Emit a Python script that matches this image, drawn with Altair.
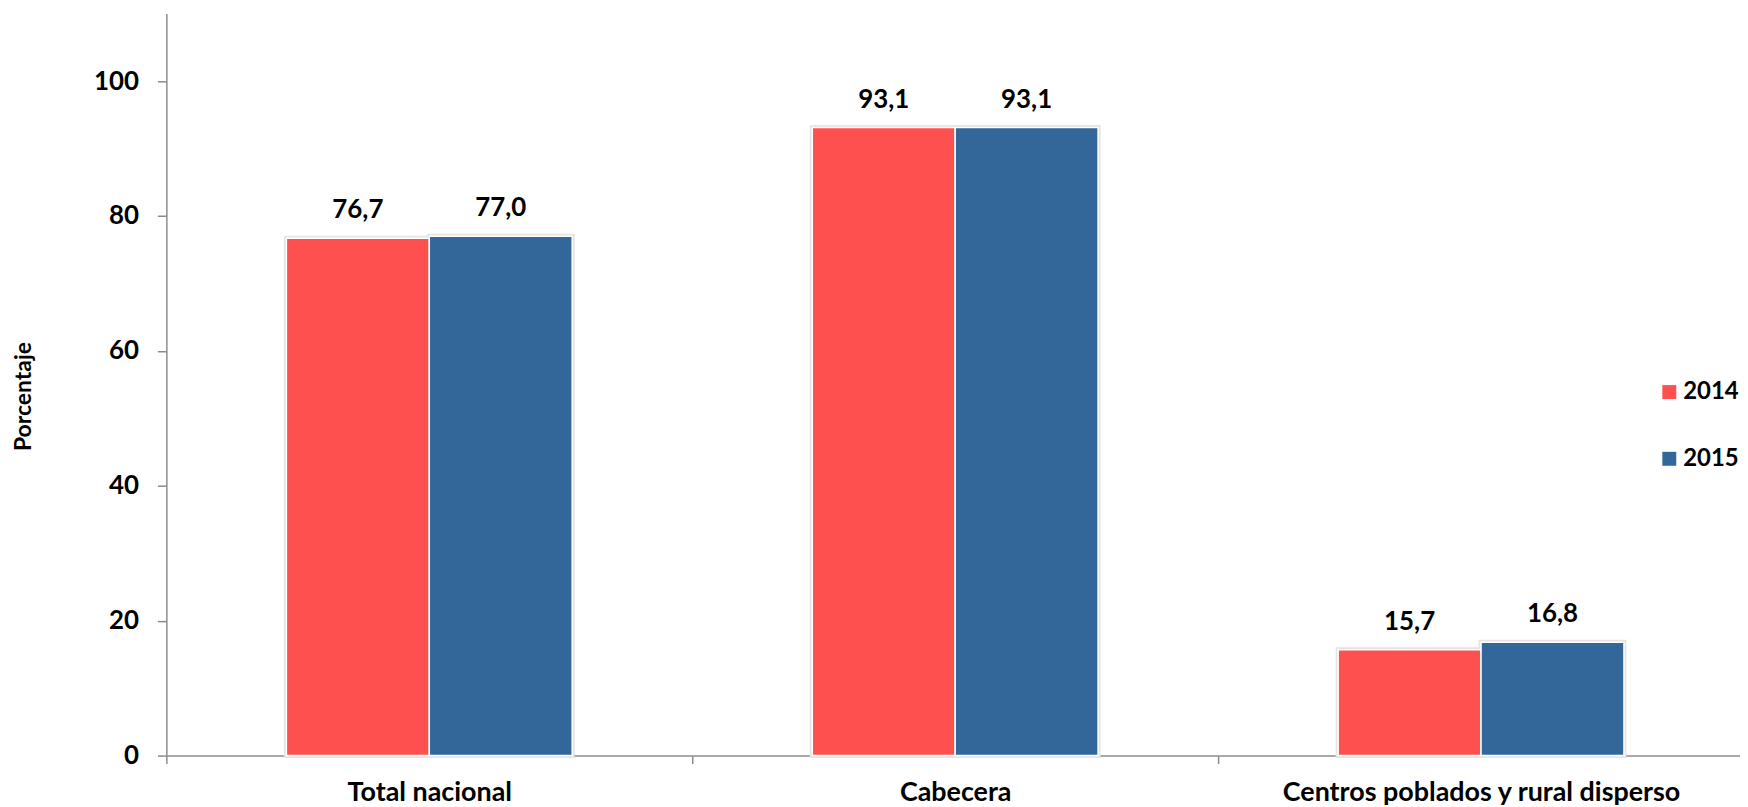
import altair as alt
import pandas as pd

categories = ["Total nacional", "Cabecera", "Centros poblados y rural disperso"]
years = ["2014", "2015"]
values_2014 = [76.7, 93.1, 15.7]
values_2015 = [77.0, 93.1, 16.8]
colors = ["#FF5050", "#336699"]

rows = []
for c, v in zip(categories, values_2014):
    rows.append({"cat": c, "year": "2014", "val": v, "label": f"{v:.1f}".replace(".", ",")})
for c, v in zip(categories, values_2015):
    rows.append({"cat": c, "year": "2015", "val": v, "label": f"{v:.1f}".replace(".", ",")})
df = pd.DataFrame(rows)

FONT = "Lato"

x = alt.X(
    "cat:N",
    sort=categories,
    scale=alt.Scale(range=[0, 1584], paddingInner=0, paddingOuter=0),
    axis=alt.Axis(
        title=None,
        domainColor="#8c8c8c",
        domainWidth=1.5,
        tickColor="#8c8c8c",
        tickWidth=1.5,
        tickSize=8,
        tickBand="extent",
        labelFont=FONT,
        labelFontWeight="bold",
        labelFontSize=27,
        labelColor="#000000",
        labelPadding=37,
        labelBaseline="alphabetic",
        labelAngle=0,
        labelLimit=0,
        grid=False,
    ),
)

y = alt.Y(
    "val:Q",
    scale=alt.Scale(domain=[0, 110], nice=False, zero=True),
    axis=alt.Axis(
        title="Porcentaje",
        values=[0, 20, 40, 60, 80, 100],
        domainColor="#8c8c8c",
        domainWidth=1.5,
        tickColor="#8c8c8c",
        tickWidth=1.5,
        tickSize=9,
        labelFont=FONT,
        labelFontWeight="bold",
        labelFontSize=26,
        labelColor="#000000",
        labelPadding=19,
        grid=False,
        titleFont=FONT,
        titleFontWeight="bold",
        titleFontSize=23,
        titleColor="#000000",
        titleAngle=270,
        titleAlign="center",
        titleBaseline="middle",
        titleX=-143,
        titleY=384,
    ),
)

xoff = alt.XOffset("year:N", sort=years, scale=alt.Scale(paddingInner=0, paddingOuter=0.84))

color = alt.Color(
    "year:N",
    sort=years,
    scale=alt.Scale(domain=years, range=colors),
    legend=alt.Legend(
        title=None,
        orient="none",
        legendX=1497,
        legendY=368,
        padding=0,
        symbolType="square",
        symbolSize=196,
        symbolStrokeWidth=0,
        labelFont=FONT,
        labelFontWeight="bold",
        labelFontSize=24,
        labelColor="#000000",
        labelOffset=2,
        labelLimit=0,
        rowPadding=43,
    ),
)

shadow = alt.Chart(df).mark_bar(stroke="#e4e4e4", strokeWidth=5, fill="#e4e4e4").encode(
    x=x, y=y, xOffset=xoff,
)

bars = alt.Chart(df).mark_bar(stroke="white", strokeWidth=1.5).encode(
    x=x, y=y, xOffset=xoff, color=color,
)

labels = alt.Chart(df).mark_text(
    font=FONT, fontWeight="bold", fontSize=26, color="#000000",
    baseline="alphabetic", dy=-20,
).encode(
    x=x, y=y, xOffset=xoff, text="label:N",
)

chart = alt.layer(shadow, bars, labels).properties(
    width=1580,
    height=745,
    autosize=alt.AutoSizeParams(type="none"),
    padding={"left": 159, "top": 4, "right": 0, "bottom": 50},
).configure_view(stroke=None)

chart.save("out.html", embed_options={"renderer": "svg", "actions": False})
